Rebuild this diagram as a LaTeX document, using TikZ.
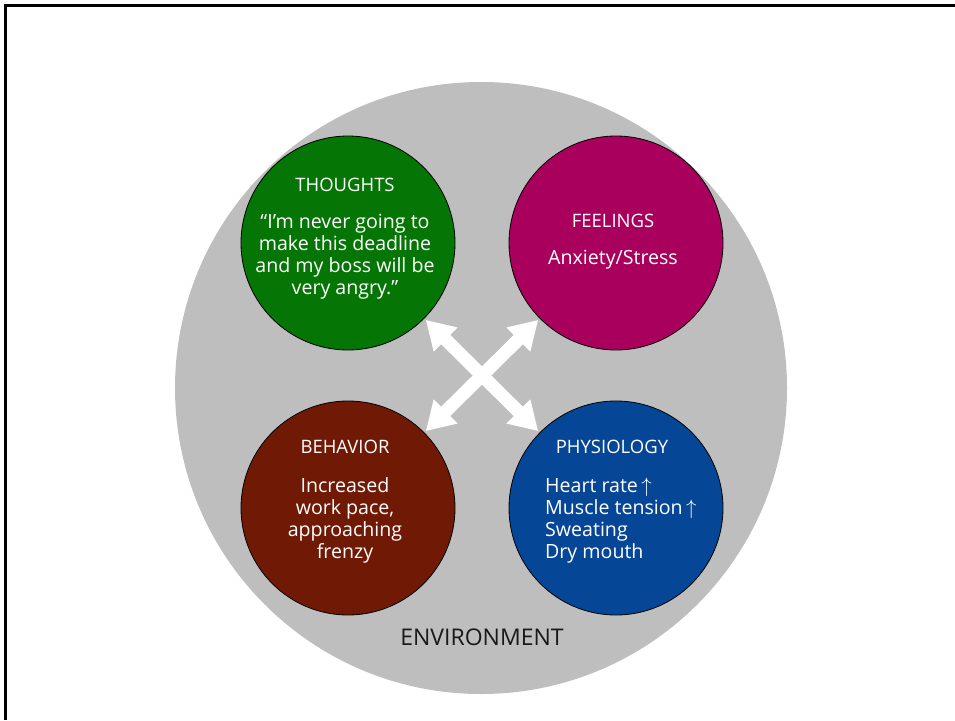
\documentclass[tikz,border=0pt]{standalone}
\usepackage{fontspec}
\setmainfont{Open Sans}
\usetikzlibrary{arrows.meta}
\definecolor{envgray}{RGB}{190,190,190}
\definecolor{thoughtgreen}{RGB}{5,118,5}
\definecolor{feelingpink}{RGB}{168,0,92}
\definecolor{behavbrown}{RGB}{112,26,6}
\definecolor{physblue}{RGB}{6,70,150}

\begin{document}
\begin{tikzpicture}[x=1pt, y=-1pt,
    part/.style = {circle, draw=black, line width=0.8pt, minimum size=214pt, inner sep=0pt},
    title/.style = {text=white, font=\fontsize{18.5}{22}\selectfont, anchor=base, inner sep=0pt},
    body/.style = {text=white, font=\fontsize{19.6}{22}\selectfont, align=center, anchor=base, inner sep=0pt},
    dblarrow/.style = {white, line width=13pt, {Triangle[width=32pt,length=28pt]}-{Triangle[width=32pt,length=28pt]}, shorten <=2pt, shorten >=2pt}]
  \useasboundingbox (0,0) rectangle (955,720);
  \draw[line width=3pt] (5,720) -- (5,5) -- (955,5);
  \node[circle, fill=envgray, minimum size=612pt, inner sep=0pt] (env) at (481,388) {};
  \node[part, fill=thoughtgreen] (thoughts) at (348,243) {};
  \node[part, fill=feelingpink] (feelings) at (616,243) {};
  \node[part, fill=behavbrown] (behavior) at (348,508) {};
  \node[part, fill=physblue] (physiology) at (616,508) {};
  \draw[dblarrow] (thoughts) -- (physiology);
  \draw[dblarrow] (feelings) -- (behavior);
  \node[title] (thoughtstitle) at (345,191) {THOUGHTS};
  \node[body] (thoughtstext) at (345,294) {“I’m never going to\\make this deadline\\and my boss will be\\very angry.”};
  \node[title] (feelingstitle) at (613,227) {FEELINGS};
  \node[body] (feelingstext) at (613,264) {Anxiety/Stress};
  \node[title] (behaviortitle) at (345,453) {BEHAVIOR};
  \node[body] (behaviortext) at (345,558) {Increased\\work pace,\\approaching\\frenzy};
  \node[title] (physiologytitle) at (612,453) {PHYSIOLOGY};
  \node[body, align=left, anchor=base west] (physiologytext) at (545,558) {Heart rate\,$\uparrow$\\Muscle tension\,$\uparrow$\\Sweating\\Dry mouth};
  \node[anchor=base, inner sep=0pt, text=black!90, font=\fontsize{23}{26}\selectfont] (envlabel) at (482,645) {ENVIRONMENT};
\end{tikzpicture}
\end{document}
